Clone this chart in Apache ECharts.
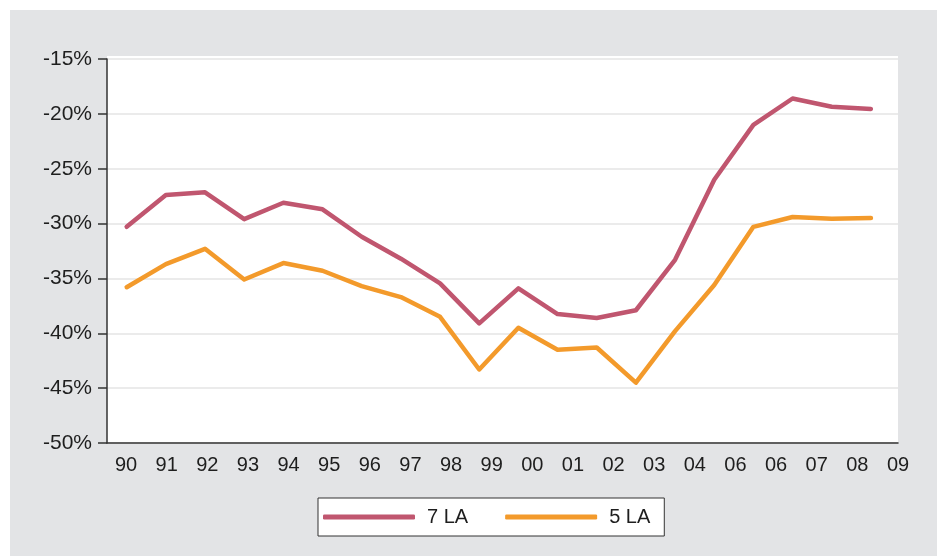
<!DOCTYPE html>
<html>
<head>
<meta charset="utf-8">
<script src="https://cdn.jsdelivr.net/npm/echarts@6/dist/echarts.min.js"></script>
<style>html,body{margin:0;padding:0;background:#fff}#c{width:937px;height:556px}</style>
</head>
<body>
<div id="c"></div>
<script>
var categories = ['90','91','92','93','94','95','96','97','98','99','00','01','02','03','04','06','06','07','08','09'];
var la7 = [-30.3,-27.4,-27.15,-29.6,-28.1,-28.7,-31.2,-33.2,-35.45,-39.1,-35.9,-38.25,-38.6,-37.9,-33.3,-26.0,-21.0,-18.6,-19.35,-19.55];
var la5 = [-35.8,-33.7,-32.3,-35.1,-33.6,-34.3,-35.7,-36.7,-38.5,-43.3,-39.5,-41.5,-41.3,-44.5,-39.8,-35.6,-30.3,-29.4,-29.55,-29.5];
var yMin = -50, yMax = -15, yStep = 5;

var font = 'Liberation Sans, Arial, sans-serif';
var chart = echarts.init(document.getElementById('c'), null, {renderer: 'canvas'});
chart.setOption({
  backgroundColor: '#ffffff',
  animation: false,
  graphic: [
    {type: 'rect', z: -100, shape: {x: 10, y: 10, width: 927, height: 546}, style: {fill: '#e3e4e6'}},
    {type: 'rect', z: -99, shape: {x: 107, y: 56, width: 791, height: 387}, style: {fill: '#ffffff'}}
  ],
  grid: [
    {left: 107.1, top: 59, width: 783.4, height: 384},
    {left: 107, top: 59, width: 791, height: 384},
    {left: 126, top: 59, width: 772, height: 384}
  ],
  xAxis: [
    {gridIndex: 0, type: 'category', data: categories, boundaryGap: true,
     axisLine: {show: false}, axisTick: {show: false}, axisLabel: {show: false}, splitLine: {show: false}},
    {gridIndex: 1, type: 'category', data: categories, boundaryGap: true,
     axisLine: {show: true, lineStyle: {color: '#333333', width: 1.5}}, axisTick: {show: false},
     axisLabel: {show: false}, splitLine: {show: false}},
    {gridIndex: 2, type: 'category', data: categories, boundaryGap: false,
     axisLine: {show: false}, axisTick: {show: false}, splitLine: {show: false},
     axisLabel: {show: true, interval: 0, margin: 12, color: '#1e1e1e', fontSize: 20, fontFamily: font}}
  ],
  yAxis: [
    {gridIndex: 0, type: 'value', min: yMin, max: yMax, interval: yStep, show: false},
    {gridIndex: 1, type: 'value', min: yMin, max: yMax, interval: yStep,
     axisLine: {show: true, lineStyle: {color: '#333333', width: 1.5}},
     axisTick: {show: true, length: 9, lineStyle: {color: '#333333', width: 1.5}},
     axisLabel: {margin: 15, color: '#1e1e1e', fontSize: 21, fontFamily: font,
       formatter: function (v) { return v + '%'; }},
     splitLine: {show: true, lineStyle: {color: '#e4e4e4', width: 1.5}}},
    {gridIndex: 2, type: 'value', min: yMin, max: yMax, interval: yStep, show: false}
  ],
  legend: {
    data: ['7 LA', '5 LA'],
    left: 318, top: 498,
    orient: 'horizontal',
    icon: 'roundRect',
    itemWidth: 92, itemHeight: 5, itemGap: 37,
    padding: [9, 14, 9, 5],
    backgroundColor: '#ffffff', borderColor: '#333333', borderWidth: 1,
    textStyle: {fontSize: 20, color: '#1e1e1e', fontFamily: font, lineHeight: 20, padding: [0, 0, 0, 7]}
  },
  series: [
    {name: '7 LA', type: 'line', xAxisIndex: 0, yAxisIndex: 0, data: la7, symbol: 'none',
     color: '#c0566f', lineStyle: {color: '#c0566f', width: 4.5, cap: 'round', join: 'round'}, z: 5},
    {name: '5 LA', type: 'line', xAxisIndex: 0, yAxisIndex: 0, data: la5, symbol: 'none',
     color: '#f39a2b', lineStyle: {color: '#f39a2b', width: 4.5, cap: 'round', join: 'round'}, z: 4}
  ]
});
</script>
</body>
</html>
